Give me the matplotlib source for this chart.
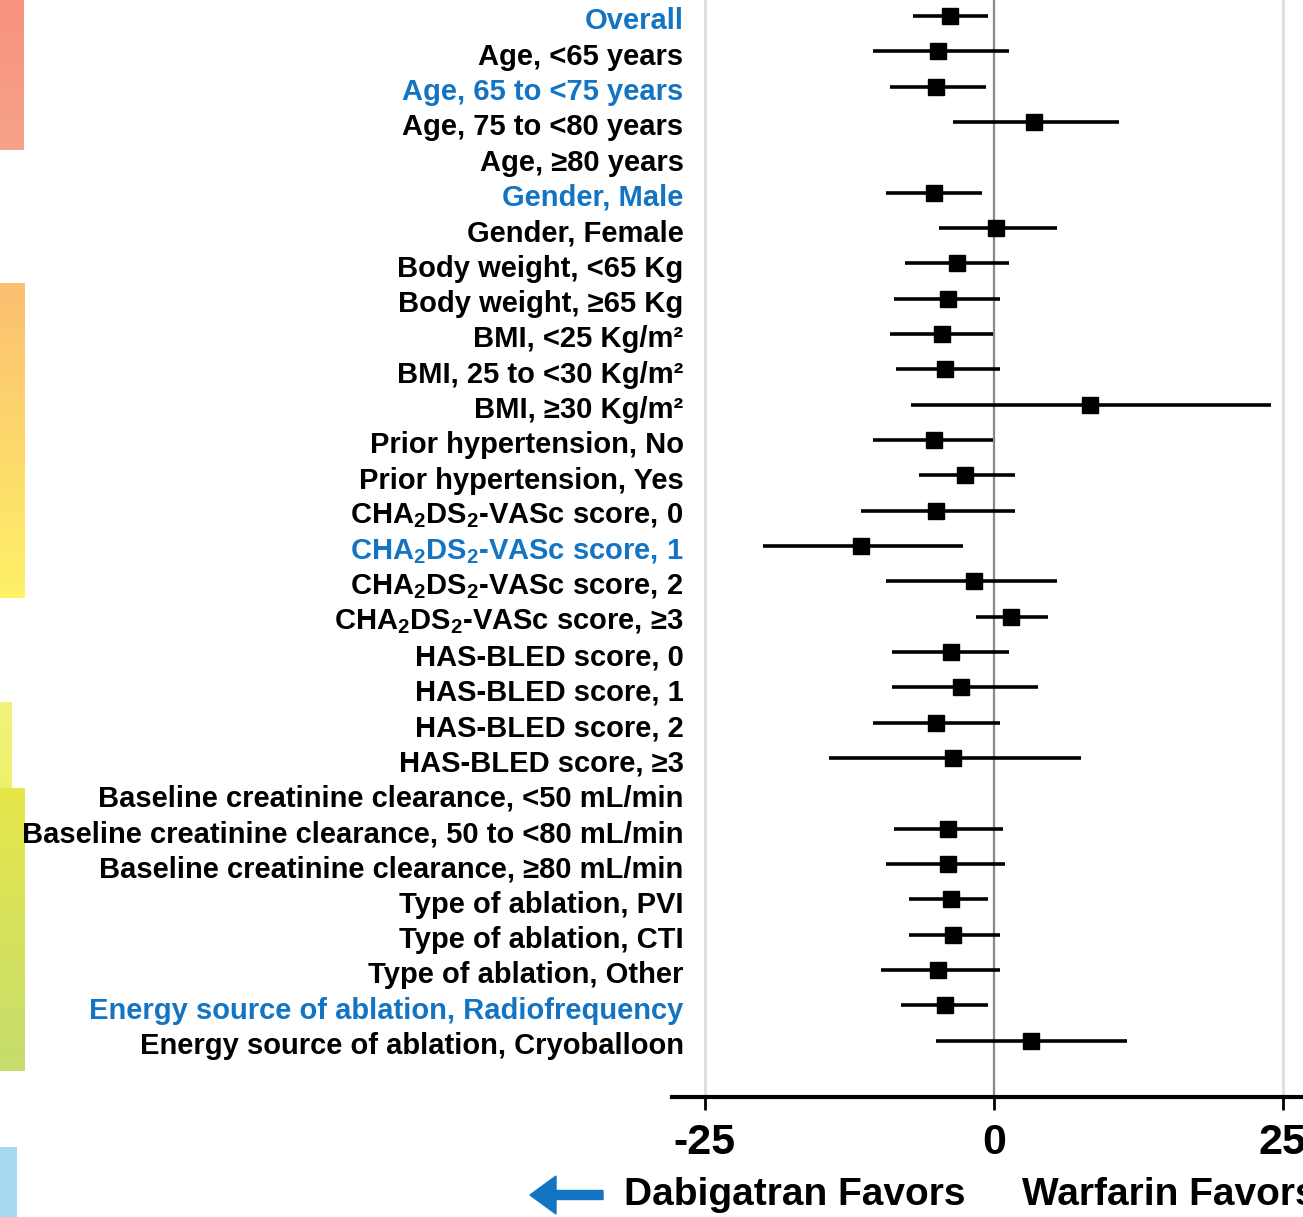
import numpy as np
import matplotlib
matplotlib.use("Agg")
import matplotlib.pyplot as plt
from matplotlib.patches import FancyArrow

plt.rcParams['font.family'] = ['Liberation Sans', 'DejaVu Sans']
plt.rcParams['font.weight'] = 'bold'
plt.rcParams['mathtext.fontset'] = 'custom'
plt.rcParams['mathtext.rm'] = 'Liberation Sans:bold'
plt.rcParams['mathtext.bf'] = 'Liberation Sans:bold'
plt.rcParams['mathtext.default'] = 'bf'

CHA = r'CHA$_\mathbf{2}$DS$_\mathbf{2}$-VASc score, '

labels = [
    "Overall", "Age, <65 years", "Age, 65 to <75 years", "Age, 75 to <80 years",
    "Age, \u226580 years", "Gender, Male", "Gender, Female",
    "Body weight, <65 Kg", "Body weight, \u226565 Kg",
    "BMI, <25 Kg/m\u00b2", "BMI, 25 to <30 Kg/m\u00b2", "BMI, \u226530 Kg/m\u00b2",
    "Prior hypertension, No", "Prior hypertension, Yes",
    CHA + "0", CHA + "1", CHA + "2", CHA + "\u22653",
    "HAS-BLED score, 0", "HAS-BLED score, 1", "HAS-BLED score, 2", "HAS-BLED score, \u22653",
    "Baseline creatinine clearance, <50 mL/min",
    "Baseline creatinine clearance, 50 to <80 mL/min",
    "Baseline creatinine clearance, \u226580 mL/min",
    "Type of ablation, PVI", "Type of ablation, CTI", "Type of ablation, Other",
    "Energy source of ablation, Radiofrequency", "Energy source of ablation, Cryoballoon",
]
highlight = [0, 2, 5, 15, 28]

# point estimate, lower, upper (nan = no estimate)
est = [-3.8, -4.8, -5.0, 3.5, np.nan, -5.2, 0.2, -3.2, -4.0, -4.5, -4.25, 8.3,
       -5.2, -2.5, -5.0, -11.5, -1.7, 1.5, -3.75, -2.8, -5.0, -3.5, np.nan,
       -4.0, -4.0, -3.75, -3.5, -4.8, -4.25, 3.25]
lo = [-7.0, -10.5, -9.0, -3.5, np.nan, -9.3, -4.75, -7.7, -8.6, -9.0, -8.5, -7.2,
      -10.5, -6.5, -11.5, -20.0, -9.3, -1.55, -8.8, -8.8, -10.5, -14.3, np.nan,
      -8.6, -9.3, -7.3, -7.3, -9.8, -8.0, -5.0]
hi = [-0.5, 1.3, -0.7, 10.8, np.nan, -1.0, 5.5, 1.3, 0.5, -0.1, 0.5, 24.0,
      -0.1, 1.8, 1.8, -2.7, 5.5, 4.7, 1.3, 3.8, 0.5, 7.5, np.nan,
      0.8, 1.0, -0.5, 0.5, 0.5, -0.5, 11.5]

xticks = [-25, 0, 25]
blue = '#1474C4'

W, H = 1303, 1217
fig = plt.figure(figsize=(W / 100, H / 100), dpi=100)

# decorative colour strip on the far left
strip = fig.add_axes([0, 0, 26 / W, 1])
strip.axis('off')
def block(x0, x1, y0, y1, c_top, c_bot):
    t = np.linspace(0, 1, 50)[:, None]
    a = np.array(matplotlib.colors.to_rgb(c_top))
    b = np.array(matplotlib.colors.to_rgb(c_bot))
    img = (a * (1 - t) + b * t)[:, None, :]
    strip.imshow(img, extent=(x0, x1, y1, y0), aspect='auto')
block(0, 24, 0, 150, '#F7927F', '#F7A28A')
block(0, 25, 283, 598, '#FBBF70', '#FEF067')
block(0, 12, 702, 790, '#F2F27A', '#EEF06C')
block(0, 25, 788, 1071, '#E6E64A', '#C6DD6E')
block(0, 17, 1147, 1217, '#A9D9F2', '#A9D9F2')
strip.set_xlim(0, 26)
strip.set_ylim(H, 0)

ax = fig.add_axes([672 / W, 1 - 1097 / H, 1 - 672 / W, 1097 / H])
n = len(labels)
y = np.arange(n)
ax.set_ylim(30.59, -0.45)
ax.set_xlim(-27.85, 26.75)

for g in (-25, 25):
    ax.axvline(g, color='#dddddd', lw=2, zorder=0)
ax.axvline(0, color='#888888', lw=1.6, zorder=1)

est = np.array(est); lo = np.array(lo); hi = np.array(hi)
ax.hlines(y, lo, hi, color='black', lw=2.6, zorder=2)
ax.plot(est, y, 's', color='black', ms=11, zorder=3)

for s in ('top', 'right', 'left'):
    ax.spines[s].set_visible(False)
ax.spines['bottom'].set_linewidth(3)
ax.set_yticks([])
ax.set_xticks(xticks)
ax.set_xticklabels([str(v) for v in xticks], fontsize=31, fontweight='bold')
ax.tick_params(axis='x', length=9, width=2, pad=10)

for i, lab in enumerate(labels):
    ax.text(-27.85 + 1.0, i + 0.15, lab, ha='right', va='center', fontsize=21,
            fontweight='bold', color=blue if i in highlight else 'black',
            clip_on=False)

fig.text(795 / W, 1 - 1195 / H, 'Dabigatran Favors', ha='center', va='center',
         fontsize=28, fontweight='bold')
fig.text(1022 / W, 1 - 1195 / H, 'Warfarin Favors', ha='left', va='center',
         fontsize=28, fontweight='bold')
fig.add_artist(FancyArrow(603 / W, 1 - 1195 / H, -73 / W, 0, width=9 / H,
                          head_width=38 / H, head_length=26 / W, length_includes_head=True,
                          color=blue, transform=fig.transFigure))

fig.savefig('out.png', dpi=100)
